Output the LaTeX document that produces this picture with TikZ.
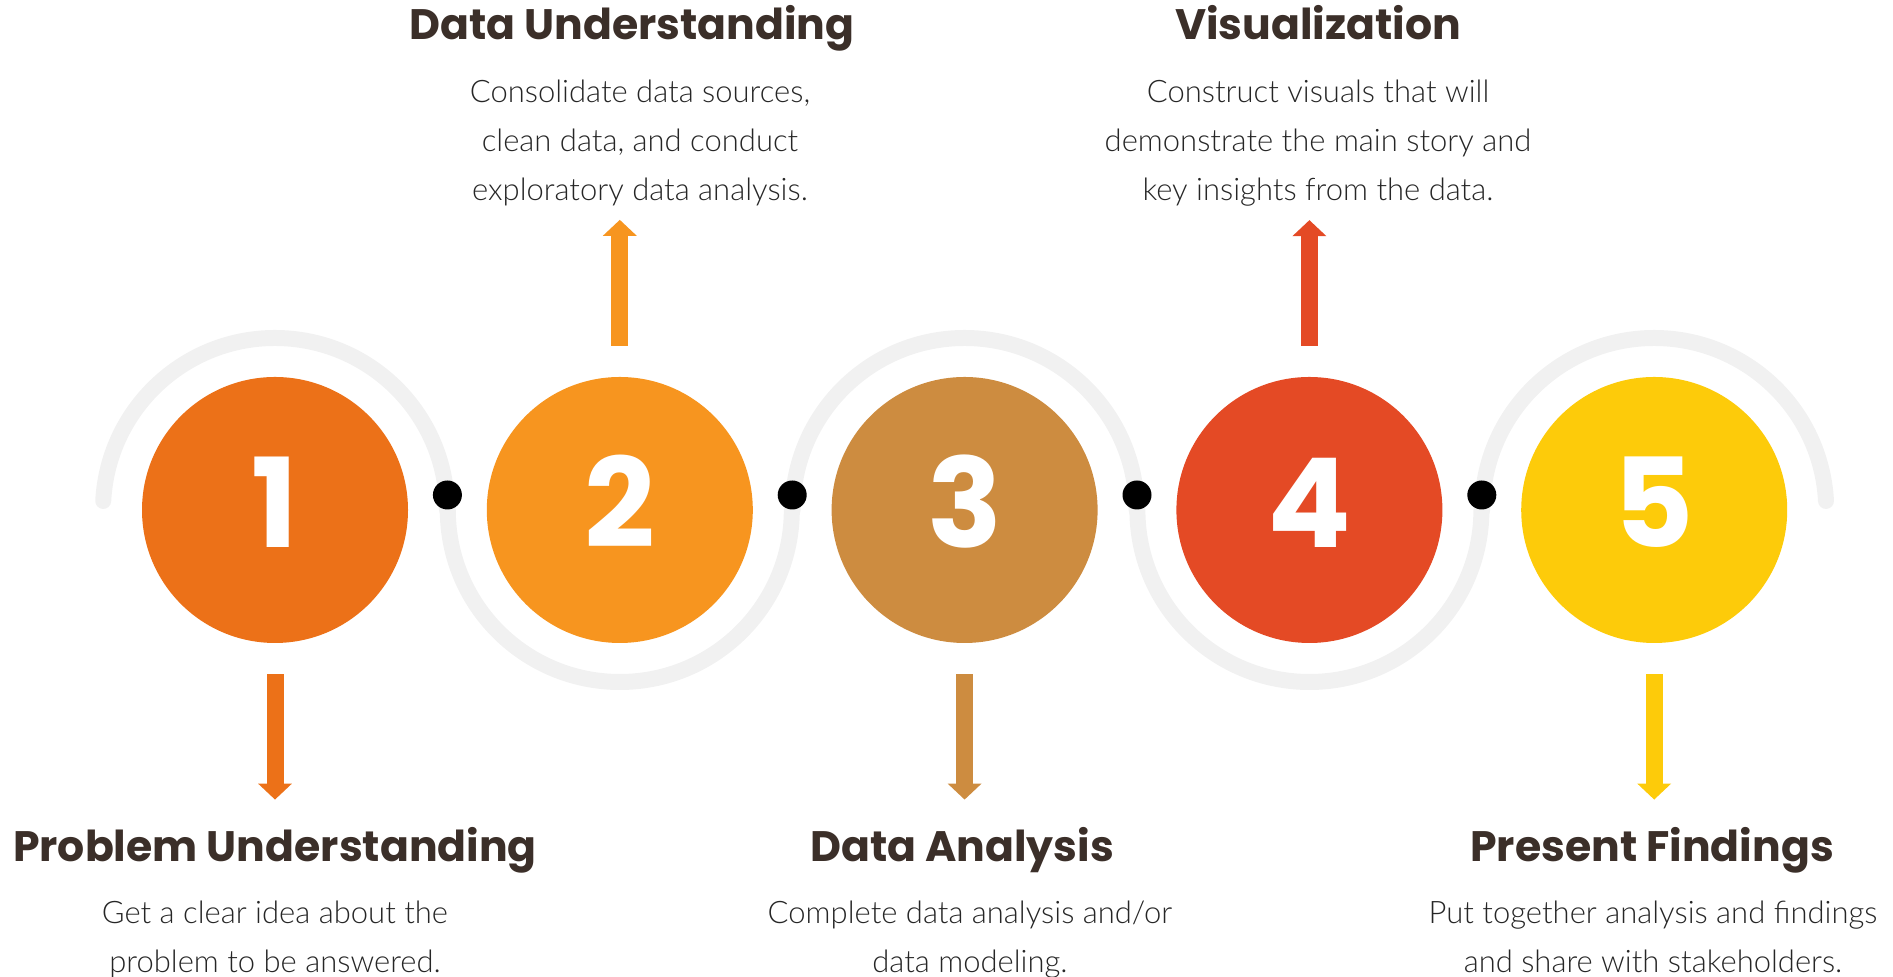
\documentclass[tikz,border=0pt]{standalone}
\usepackage{fontspec}
\usepackage{tikz}
\usetikzlibrary{arrows.meta, positioning, calc}
\usepackage{xcolor}
\newfontfamily\titlefont{Poppins}
\newfontfamily\descfont{Lato Light}
\definecolor{stepone}{HTML}{EC7118}
\definecolor{steptwo}{HTML}{F7951F}
\definecolor{stepthree}{HTML}{CD8C40}
\definecolor{stepfour}{HTML}{E44A25}
\definecolor{stepfive}{HTML}{FDCB0A}
\definecolor{trackgray}{HTML}{F1F1F1}
\definecolor{headbrown}{HTML}{3B2F29}
\definecolor{blurbgray}{HTML}{262626}

\begin{document}
\begin{tikzpicture}[
        x=0.5pt, y=0.5pt,
        % Styles
        stage/.style={
            circle,
            inner sep=0pt,
            minimum size=133pt,
            text=white,
            font=\titlefont\bfseries\fontsize{62}{62}\selectfont,
            text height=43.5pt,
            text depth=5.5pt
          },
        joint/.style={
            circle,
            fill=black,
            inner sep=0pt,
            minimum size=14.5pt
          },
        track/.style={
            draw=trackgray,
            line width=8pt,
            line cap=round
          },
        heading/.style={
            font=\titlefont\bfseries\fontsize{21.3}{24}\selectfont,
            text=headbrown,
            inner sep=0pt,
            text height=15pt,
            text depth=5pt,
            anchor=base
          },
        blurb/.style={
            font=\descfont\fontsize{15.5}{24.5}\selectfont,
            text=blurbgray,
            align=center,
            inner sep=0pt,
            anchor=base
          },
        pointer/.style={
            line width=8.5pt,
            -{Triangle[width=16.5pt, length=8pt]},
            shorten <=15.5pt
          }
      ]
      \useasboundingbox (0,0) rectangle (1893,977);

      % Stages
      \node[stage, fill=stepone] (c1) at (275,467) {1};
      \node[stage, fill=steptwo, right=39pt of c1] (c2) {2};
      \node[stage, fill=stepthree, right=39pt of c2] (c3) {3};
      \node[stage, fill=stepfour, right=39pt of c3] (c4) {4};
      \node[stage, fill=stepfive, right=39pt of c4] (c5) {5};

      % Track
      \draw[track] (c1) ++(177:172) arc[start angle=177, end angle=0, radius=172];
      \draw[track] (c2) ++(180:172) arc[start angle=180, end angle=360, radius=172];
      \draw[track] (c3) ++(180:172) arc[start angle=180, end angle=0, radius=172];
      \draw[track] (c4) ++(180:172) arc[start angle=180, end angle=360, radius=172];
      \draw[track] (c5) ++(180:172) arc[start angle=180, end angle=3, radius=172];

      % Joints
      \node[joint] (j12) at ($(c1)!0.5!(c2)+(0,15)$) {};
      \node[joint] (j23) at ($(c2)!0.5!(c3)+(0,15)$) {};
      \node[joint] (j34) at ($(c3)!0.5!(c4)+(0,15)$) {};
      \node[joint] (j45) at ($(c4)!0.5!(c5)+(0,15)$) {};

      % Bottom texts (base = last line)
      \node[heading] (t1) at (275,115) {Problem Understanding};
      \node[blurb] (b1) at (275,4) {Get a clear idea about the\\problem to be answered.};
      \node[heading] (t3) at (962,115) {Data Analysis};
      \node[blurb] (b3) at (970,4) {Complete data analysis and/or\\data modeling.};
      \node[heading] (t5) at (1652,115) {Present Findings};
      \node[blurb] (b5) at (1653,4) {Put together analysis and findings\\and share with stakeholders.};

      % Top texts
      \node[heading] (t2) at (632,937) {Data Understanding};
      \node[blurb] (u2) at (640,776) {Consolidate data sources,\\clean data, and conduct\\exploratory data analysis.};
      \node[heading] (t4) at (1318,937) {Visualization};
      \node[blurb] (u4) at (1318,776) {Construct visuals that will\\demonstrate the main story and\\key insights from the data.};

      % Arrows
      \draw[pointer, stepone, shorten >=16pt] (c1.south) -- (c1.south |- t1.north);
      \draw[pointer, steptwo, shorten >=6.5pt] (c2.north) -- (c2.north |- u2.south);
      \draw[pointer, stepthree, shorten >=16pt] (c3.south) -- (c3.south |- t3.north);
      \draw[pointer, stepfour, shorten >=6.5pt] (c4.north) -- (c4.north |- u4.south);
      \draw[pointer, stepfive, shorten >=16pt] (c5.south) -- (c5.south |- t5.north);

    \end{tikzpicture}
\end{document}
